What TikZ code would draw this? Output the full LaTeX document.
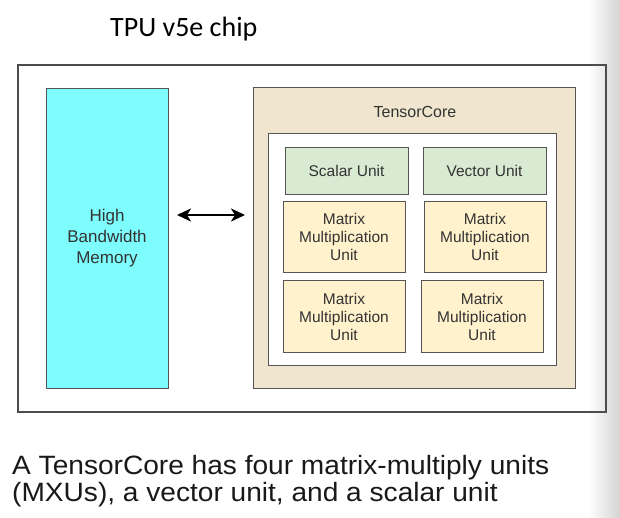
\documentclass[tikz,border=0pt]{standalone}
\usepackage{fontspec}
\setmainfont{Liberation Sans}
\newfontfamily\titlefont{Carlito}
\newfontfamily\capfont{Liberation Sans}[FakeStretch=1.06]
\usetikzlibrary{arrows.meta}
\definecolor{hbmcyan}{HTML}{7DFDFD}
\definecolor{tcbeige}{HTML}{F0E6CF}
\definecolor{unitgreen}{HTML}{D9EAD3}
\definecolor{mxuyellow}{HTML}{FFF2CC}
\definecolor{edgegray}{HTML}{555555}
\definecolor{txtgray}{HTML}{333333}
\begin{document}
\begin{tikzpicture}[x=1pt,y=-1pt,
  box/.style={draw=edgegray, line width=0.9pt, inner sep=0pt, outer sep=0pt, align=center, text=txtgray},
  unitfont/.style={font=\fontsize{15.5}{18}\selectfont},
  unitbox/.style={box, unitfont, fill=unitgreen, minimum width=123pt, minimum height=47pt},
  mxubox/.style={box, unitfont, fill=mxuyellow, minimum width=122pt, minimum height=71.5pt},
  link/.style={{Stealth[length=14pt,width=13pt,inset=4pt]}-{Stealth[length=14pt,width=13pt,inset=4pt]}, line width=2.4pt, black},
  captext/.style={anchor=base west, inner sep=0pt, text=black!90, font=\capfont\fontsize{26.5}{30}\selectfont}
]
\useasboundingbox (0,0) rectangle (620,518);
\fill[white] (0,0) rectangle (620,518);
\shade[left color=white, right color=black!17] (588,0) rectangle (620,518);

\node[draw=black!70, line width=1.2pt, inner sep=0pt, minimum width=588pt, minimum height=347pt] (chip) at (312,238.5) {};
\node[anchor=base west, inner sep=0pt, font=\titlefont\fontsize{28}{30}\selectfont] (title) at (110,37) {TPU v5e chip};

\node[box, fill=hbmcyan, minimum width=122pt, minimum height=300pt, font=\fontsize{17}{21}\selectfont] (hbm) at (107,238) {High\\Bandwidth\\Memory};

\node[box, fill=tcbeige, minimum width=322pt, minimum height=301pt] (tc) at (414,237.5) {};
\node[inner sep=0pt, text=txtgray, font=\fontsize{16}{18}\selectfont] (tclabel) at (415,112) {TensorCore};
\node[box, fill=white, minimum width=288pt, minimum height=232pt] (inner) at (412,249) {};

\node[unitbox] (scalar) at (346.5,170.5) {Scalar Unit};
\node[unitbox] (vector) at (484.5,170.5) {Vector Unit};
\node[mxubox] (m1) at (344,237) {Matrix\\Multiplication\\Unit};
\node[mxubox] (m2) at (485,237) {Matrix\\Multiplication\\Unit};
\node[mxubox] (m3) at (344,316.5) {Matrix\\Multiplication\\Unit};
\node[mxubox] (m4) at (482,316.5) {Matrix\\Multiplication\\Unit};

\draw[link, shorten <=9pt, shorten >=8pt] ([yshift=23pt]hbm.east) -- ([yshift=23pt]hbm.east -| tc.west);

\node[captext] (cap1) at (12,474) {A TensorCore has four matrix-multiply units};
\node[captext] (cap2) at (12,501) {(MXUs), a vector unit, and a scalar unit};
\end{tikzpicture}
\end{document}
